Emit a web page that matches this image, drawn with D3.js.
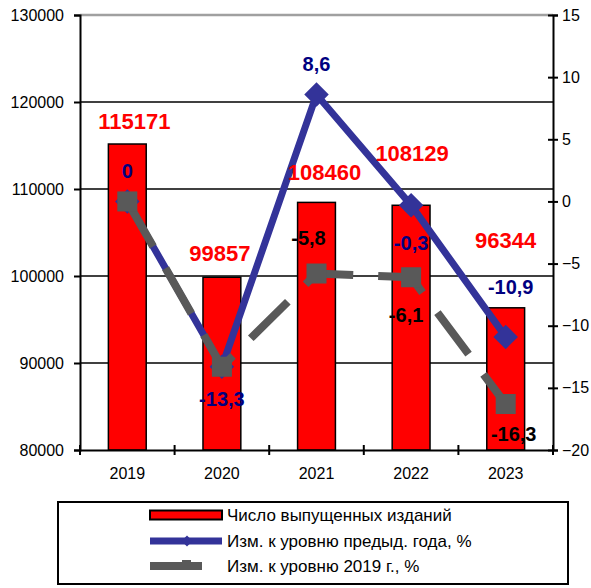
<!DOCTYPE html>
<html>
<head>
<meta charset="utf-8">
<script src="https://cdn.jsdelivr.net/npm/d3@7"></script>
<style>
  body { margin: 0; background: #fff; }
  svg text { font-family: "Liberation Sans", Arial, sans-serif; }
</style>
</head>
<body>
<div id="chart"></div>
<script>
// data
var years = ["2019", "2020", "2021", "2022", "2023"];
var editions = [115171, 99857, 108460, 108129, 96344];
var prevYearPct = [0, -13.3, 8.6, -0.3, -10.9];
var base2019Pct = [0, -13.3, -5.8, -6.1, -16.3];
var leftTicks = [80000, 90000, 100000, 110000, 120000, 130000];
var rightTicks = [-20, -15, -10, -5, 0, 5, 10, 15];
var seriesNames = ["Число выпущенных изданий", "Изм. к уровню предыд. года, %", "Изм. к уровню 2019 г., %"];

// label nudges (px) - labels were moved by hand in the original
var barLabelShift = [[7, -23], [-2, -24], [8, -30], [1, -52], [0, -68]];
var blueLabelShift = [[0, -30], [0, 32], [0, -31], [0, 38], [5, -50]];
var grayLabelShift = [null, null, [-8, -36], [-5, 38], [8, 30]];

var fmt = function (v) { return String(v).replace(".", ","); };

var w = 591, h = 588;
var pLeft = 80, pRight = 553, pTop = 15, pBottom = 450;

var svg = d3.select("#chart").append("svg").attr("width", w).attr("height", h);

var x = d3.scaleBand().domain(years).range([pLeft, pRight]);
var yL = d3.scaleLinear().domain([80000, 130000]).range([pBottom, pTop]);
var yR = d3.scaleLinear().domain([-20, 15]).range([pBottom, pTop]);
var barW = x.bandwidth() * 0.4;
var cx = function (i) { return x(years[i]) + x.bandwidth() / 2; };

// gridlines
svg.append("g").selectAll("line").data(leftTicks.slice(1)).enter().append("line")
    .attr("x1", pLeft).attr("x2", pRight)
    .attr("y1", function (d) { return yL(d); })
    .attr("y2", function (d) { return yL(d); })
    .attr("stroke", function (d) { return d === 130000 ? "#a0a0a0" : "#000"; })
    .attr("stroke-width", function (d) { return d === 130000 ? 2.5 : 1.5; });

// bars
svg.append("g").selectAll("rect").data(editions).enter().append("rect")
    .attr("x", function (d, i) { return cx(i) - barW / 2; })
    .attr("y", function (d) { return yL(d); })
    .attr("width", barW)
    .attr("height", function (d) { return pBottom - yL(d); })
    .attr("fill", "#ff0000")
    .attr("stroke", "#000")
    .attr("stroke-width", 1.5);

// axes
var axisLeft = d3.axisLeft(yL).tickValues(leftTicks).tickSize(6).tickPadding(10).tickFormat(d3.format("d"));
var gl = svg.append("g").attr("transform", "translate(" + pLeft + ",0)").call(axisLeft);
gl.select(".domain").attr("stroke-width", 2);
gl.selectAll(".tick line").attr("stroke-width", 2);
gl.selectAll("text").attr("font-size", "16px").attr("fill", "#000");

var axisRight = d3.axisRight(yR).tickValues(rightTicks).tickSize(5).tickPadding(4);
var gr = svg.append("g").attr("transform", "translate(" + pRight + ",0)").call(axisRight);
gr.select(".domain").attr("stroke-width", 2);
gr.selectAll(".tick line").attr("x1", -5).attr("stroke-width", 2);
gr.selectAll("text").attr("font-size", "16px").attr("fill", "#000");

var axisBottom = d3.axisBottom(x).tickSize(0).tickPadding(18);
var gb = svg.append("g").attr("transform", "translate(0," + pBottom + ")").call(axisBottom);
gb.select(".domain").attr("stroke-width", 2);
gb.selectAll("text").attr("font-size", "16px").attr("fill", "#000");
var edges = years.map(function (d) { return x(d); }).concat([pRight]);
gb.selectAll(".edge").data(edges).enter().append("line")
    .attr("x1", function (d) { return d; }).attr("x2", function (d) { return d; })
    .attr("y1", -5).attr("y2", 5)
    .attr("stroke", "#000").attr("stroke-width", 2);

// lines
var pctLine = d3.line().x(function (d, i) { return cx(i); }).y(function (d) { return yR(d); });

svg.append("path").datum(prevYearPct)
    .attr("d", pctLine)
    .attr("fill", "none").attr("stroke", "#333399").attr("stroke-width", 7);

svg.append("g").selectAll("path").data(prevYearPct).enter().append("path")
    .attr("d", d3.symbol().type(d3.symbolSquare).size(300))
    .attr("transform", function (d, i) { return "translate(" + cx(i) + "," + yR(d) + ") rotate(45)"; })
    .attr("fill", "#333399");

svg.append("path").datum(base2019Pct)
    .attr("d", pctLine)
    .attr("fill", "none").attr("stroke", "#595959").attr("stroke-width", 8)
    .attr("stroke-dasharray", "52,25");

svg.append("g").selectAll("rect").data(base2019Pct).enter().append("rect")
    .attr("x", function (d, i) { return cx(i) - 10; })
    .attr("y", function (d) { return yR(d) - 10; })
    .attr("width", 20).attr("height", 20)
    .attr("fill", "#595959");

// data labels
svg.append("g").selectAll("text").data(editions).enter().append("text")
    .attr("x", function (d, i) { return cx(i) + barLabelShift[i][0]; })
    .attr("y", function (d, i) { return yL(d) + barLabelShift[i][1]; })
    .attr("dy", "0.35em")
    .attr("text-anchor", "middle")
    .attr("font-size", "22px").attr("font-weight", "bold").attr("fill", "#ff0000")
    .text(function (d) { return d; });

svg.append("g").selectAll("text").data(prevYearPct).enter().append("text")
    .attr("x", function (d, i) { return cx(i) + blueLabelShift[i][0]; })
    .attr("y", function (d, i) { return yR(d) + blueLabelShift[i][1]; })
    .attr("dy", "0.35em")
    .attr("text-anchor", "middle")
    .attr("font-size", "20px").attr("font-weight", "bold").attr("fill", "#000080")
    .text(function (d) { return fmt(d); });

var grayLabels = base2019Pct
    .map(function (d, i) { return { v: d, i: i, s: grayLabelShift[i] }; })
    .filter(function (d) { return d.s !== null; });
svg.append("g").selectAll("text").data(grayLabels).enter().append("text")
    .attr("x", function (d) { return cx(d.i) + d.s[0]; })
    .attr("y", function (d) { return yR(d.v) + d.s[1]; })
    .attr("dy", "0.35em")
    .attr("text-anchor", "middle")
    .attr("font-size", "20px").attr("font-weight", "bold").attr("fill", "#000")
    .text(function (d) { return fmt(d.v); });

// legend
var legend = svg.append("g");
legend.append("rect")
    .attr("x", 58).attr("y", 502).attr("width", 510).attr("height", 82)
    .attr("fill", "#fff").attr("stroke", "#000").attr("stroke-width", 2);

var rowY = [515, 541, 566];
legend.append("rect")
    .attr("x", 150).attr("y", rowY[0] - 4.5).attr("width", 72).attr("height", 9)
    .attr("fill", "#ff0000").attr("stroke", "#000").attr("stroke-width", 2);
legend.append("line")
    .attr("x1", 150).attr("x2", 222).attr("y1", rowY[1]).attr("y2", rowY[1])
    .attr("stroke", "#333399").attr("stroke-width", 7);
legend.append("path")
    .attr("d", d3.symbol().type(d3.symbolSquare).size(60))
    .attr("transform", "translate(187," + rowY[1] + ") rotate(45)")
    .attr("fill", "#333399");
legend.append("line")
    .attr("x1", 150).attr("x2", 202).attr("y1", rowY[2]).attr("y2", rowY[2])
    .attr("stroke", "#595959").attr("stroke-width", 8);
legend.append("rect")
    .attr("x", 182).attr("y", rowY[2] - 6).attr("width", 9).attr("height", 9)
    .attr("fill", "#595959");

legend.selectAll("text").data(seriesNames).enter().append("text")
    .attr("x", 227)
    .attr("y", function (d, i) { return rowY[i]; })
    .attr("dy", "0.35em")
    .attr("font-size", "17px").attr("fill", "#000")
    .text(function (d) { return d; });
</script>
</body>
</html>
